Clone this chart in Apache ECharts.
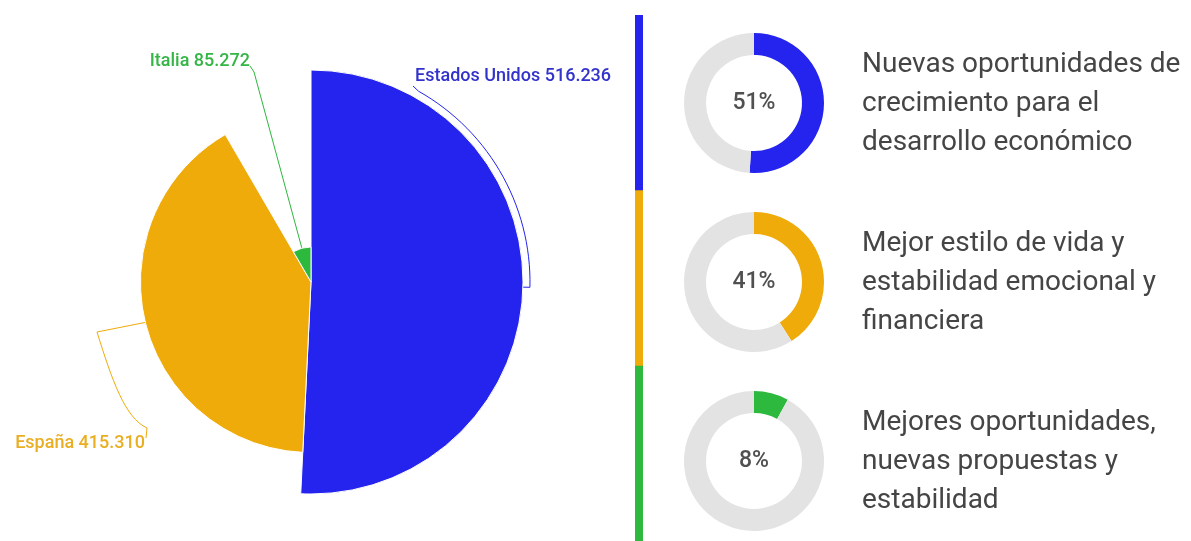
<!DOCTYPE html>
<html>
<head>
<meta charset="utf-8">
<script src="https://cdn.jsdelivr.net/npm/echarts@6/dist/echarts.min.js"></script>
<style>
  html, body { margin: 0; padding: 0; background: #ffffff; }
  #chart { width: 1191px; height: 541px; }
</style>
</head>
<body>
<div id="chart"></div>
<script>
// Visitors by country (rose chart) and share of each motivation (ring gauges)
const countries = ['Estados Unidos', 'España', 'Italia'];
const visitors = [516236, 415310, 85272];
const sliceColors = ['#2424ee', '#efab0a', '#2db83e'];
const labelColors = ['#3232cc', '#e9ae22', '#34b545'];
const shares = [51, 41, 8];
const reasons = [
  ['Nuevas oportunidades de', 'crecimiento para el', 'desarrollo económico'],
  ['Mejor estilo de vida y', 'estabilidad emocional y', 'financiera'],
  ['Mejores oportunidades,', 'nuevas propuestas y', 'estabilidad']
];

const FONT = 'Roboto, "Noto Sans", sans-serif';
const PIE_CENTER = [311, 282];
const PIE_RADIUS = 212;
const RING_X = 754;
const RING_Y = [103, 282, 461];
const TRACK = '#e3e3e3';

function fmt(v) {
  return String(v).replace(/\B(?=(\d{3})+(?!\d))/g, '.');
}

// petal geometry: mid angle (clockwise from 12 o'clock) and outer radius
const total = visitors.reduce((a, b) => a + b, 0);
const maxV = Math.max.apply(null, visitors);
let acc = 0;
const petals = visitors.map(v => {
  const a0 = acc / total * 360;
  acc += v;
  const a1 = acc / total * 360;
  return { mid: (a0 + a1) / 2, r: v / maxV * PIE_RADIUS };
});
function polar(r, deg) {
  const t = deg * Math.PI / 180;
  return [PIE_CENTER[0] + r * Math.sin(t), PIE_CENTER[1] - r * Math.cos(t)];
}
function bezier(p0, p1, p2, p3, n) {
  const out = [];
  for (let k = 1; k <= n; k++) {
    const t = k / n, u = 1 - t;
    out.push([
      u*u*u*p0[0] + 3*u*u*t*p1[0] + 3*u*t*t*p2[0] + t*t*t*p3[0],
      u*u*u*p0[1] + 3*u*u*t*p1[1] + 3*u*t*t*p2[1] + t*t*t*p3[1]
    ]);
  }
  return out;
}

// label anchors and guide-line routes
const labelPlacement = [
  { x: 415, y: 76, align: 'left' },
  { x: 145, y: 443, align: 'right' },
  { x: 250, y: 61, align: 'right' }
];
function guide(i) {
  const p = petals[i];
  const start = polar(p.r, p.mid);
  if (i === 0) {
    const pts = [start];
    for (let d = p.mid; d >= 28; d -= 2) pts.push(polar(p.r + 7, d));
    pts.push([413, 86]);
    return pts;
  }
  if (i === 1) {
    const bend = [97, 332];
    return [start, bend].concat(bezier(bend, [112, 380], [125, 418], [147, 428], 16), [[146, 438]]);
  }
  return [start, [254, 72], [250, 66]];
}

const chart = echarts.init(document.getElementById('chart'), null, { renderer: 'canvas' });

const series = [{
  type: 'pie',
  roseType: 'radius',
  center: PIE_CENTER,
  radius: [0, PIE_RADIUS],
  startAngle: 90,
  clockwise: true,
  silent: true,
  animation: false,
  itemStyle: { borderColor: '#ffffff', borderWidth: 1 },
  label: {
    show: true,
    fontFamily: FONT,
    fontSize: 18,
    fontWeight: 500,
    overflow: 'none',
    formatter: p => p.name + ' ' + fmt(p.value)
  },
  labelLine: { show: true, length: 10, length2: 10, smooth: false, lineStyle: { width: 1 } },
  labelLayout: function (params) {
    const i = params.dataIndex;
    const pl = labelPlacement[i];
    return {
      x: pl.x,
      y: pl.y,
      align: pl.align,
      verticalAlign: 'middle',
      labelLinePoints: guide(i)
    };
  },
  data: countries.map((c, i) => ({
    name: c,
    value: visitors[i],
    itemStyle: { color: sliceColors[i] },
    label: { color: labelColors[i] },
    labelLine: { lineStyle: { color: sliceColors[i] } }
  }))
}];

shares.forEach((s, i) => {
  series.push({
    type: 'pie',
    center: [RING_X, RING_Y[i]],
    radius: [48, 70],
    startAngle: 90,
    clockwise: true,
    silent: true,
    animation: false,
    label: { show: false },
    labelLine: { show: false },
    data: [
      {
        value: s,
        itemStyle: { color: sliceColors[i] },
        label: {
          show: true,
          position: 'center',
          formatter: s + '%',
          fontFamily: FONT,
          fontSize: 23,
          fontWeight: 500,
          color: '#505050'
        }
      },
      { value: 100 - s, itemStyle: { color: TRACK } }
    ]
  });
});

// colour key strip beside the gauges and the motivation captions
const stripTop = 15, stripBottom = 541;
const stripStep = (stripBottom - stripTop) / shares.length;
const graphic = [];
shares.forEach((s, i) => {
  graphic.push({
    type: 'rect',
    silent: true,
    shape: { x: 635, y: stripTop + i * stripStep, width: 8, height: stripStep + (i < shares.length - 1 ? 1 : 0) },
    style: { fill: sliceColors[i] }
  });
  graphic.push({
    type: 'text',
    silent: true,
    x: 862,
    y: RING_Y[i] + 1,
    style: {
      text: reasons[i].join('\n'),
      font: '28px ' + FONT,
      fill: '#454545',
      lineHeight: 39,
      verticalAlign: 'middle',
      align: 'left'
    }
  });
});

chart.setOption({
  backgroundColor: '#ffffff',
  animation: false,
  series: series,
  graphic: graphic
});
</script>
</body>
</html>
